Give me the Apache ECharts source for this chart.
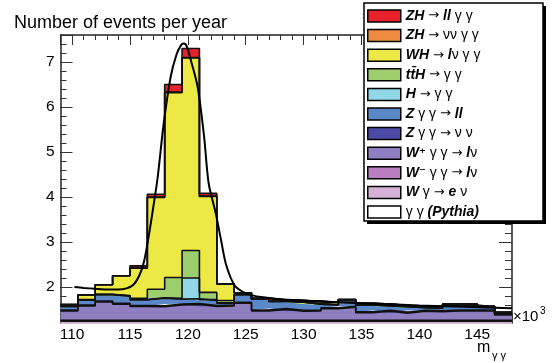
<!DOCTYPE html>
<html>
<head>
<meta charset="utf-8">
<script src="https://cdn.jsdelivr.net/npm/echarts@6/dist/echarts.min.js"></script>
<style>
html, body { margin: 0; padding: 0; background: #fff; }
#chart { width: 553px; height: 363px; }
</style>
</head>
<body>
<div id="chart"></div>
<script>
// bin edges of m_gg (GeV), 1.5 GeV bins
const binEdges = [109, 110.5, 112, 113.5, 115, 116.5, 118, 119.5, 121, 122.5, 124, 125.5, 127, 128.5,
  130, 131.5, 133, 134.5, 136, 137.5, 139, 140.5, 142, 143.5, 145, 146.5, 148];

// events per year per bin (x10^3), stack order bottom -> top
const pythiaGG = [1.1, 1.1, 1.1, 1.1, 1.1, 1.1, 1.1, 1.1, 1.1, 1.1, 1.1, 1.1, 1.1, 1.1, 1.1, 1.1, 1.1, 1.1, 1.1, 1.1, 1.1, 1.1, 1.1, 1.1, 1.1, 1.1];
const wGammaEnu = [0.14, 0.14, 0.14, 0.14, 0.14, 0.14, 0.14, 0.14, 0.14, 0.14, 0.14, 0.14, 0.14, 0.14, 0.14, 0.14, 0.14, 0.14, 0.14, 0.14, 0.14, 0.14, 0.14, 0.14, 0.14, 0.14];
const wMinusGG = [0.02, 0.02, 0.02, 0.02, 0.02, 0.02, 0.02, 0.02, 0.02, 0.02, 0.02, 0.02, 0.02, 0.02, 0.02, 0.02, 0.02, 0.02, 0.02, 0.02, 0.02, 0.02, 0.02, 0.02, 0.02, 0.02];
const wPlusGG = [0.21, 0.32, 0.41, 0.36, 0.31, 0.30, 0.34, 0.35, 0.31, 0.32, 0.38, 0.21, 0.24, 0.20, 0.21, 0.26, 0.29, 0.17, 0.20, 0.16, 0.20, 0.19, 0.21, 0.21, 0.21, 0.12];
const zGGnunu = [0.02, 0.02, 0.02, 0.02, 0.02, 0.02, 0.02, 0.02, 0.02, 0.02, 0.02, 0.02, 0.02, 0.02, 0.02, 0.02, 0.02, 0.02, 0.02, 0.02, 0.02, 0.02, 0.02, 0.02, 0.02, 0.02];
const zGGll = [0.08, 0.11, 0.14, 0.16, 0.13, 0.17, 0.11, 0.11, 0.11, 0.04, 0.17, 0.24, 0.16, 0.18, 0.13, 0.06, 0.13, 0.15, 0.10, 0.12, 0.06, 0.06, 0.10, 0.10, 0.06, 0.02];
const hGG = [0, 0, 0, 0, 0, 0.01, 0.02, 0.46, 0.02, 0.01, 0, 0, 0, 0, 0, 0, 0, 0, 0, 0, 0, 0, 0, 0, 0, 0];
const ttH = [0.02, 0.01, 0.01, 0.01, 0.03, 0.19, 0.46, 0.61, 0.16, 0.05, 0.01, 0.01, 0.01, 0.01, 0.01, 0.01, 0.01, 0.01, 0.01, 0.01, 0.01, 0.01, 0.01, 0.01, 0.01, 0.01];
const whLnuGG = [0.02, 0.10, 0.21, 0.44, 0.67, 2.04, 4.11, 4.28, 2.13, 0.37, 0.03, 0.01, 0.02, 0.03, 0.05, 0.05, 0.01, 0.03, 0.03, 0.02, 0.03, 0.02, 0.02, 0.02, 0.01, 0.01];
const zhNuNuGG = [0, 0, 0, 0, 0, 0.01, 0.01, 0.01, 0.01, 0, 0, 0, 0, 0, 0, 0, 0, 0, 0, 0, 0, 0, 0, 0, 0, 0];
const zhLLGG = [0, 0, 0, 0, 0.05, 0.06, 0.17, 0.20, 0.06, 0, 0, 0, 0, 0, 0, 0, 0, 0, 0, 0, 0, 0, 0, 0, 0, 0];

// fitted curve
const fitCurve = [[110.2, 2.00], [111, 1.98], [112, 1.96], [113, 1.945], [114, 1.945], [114.7, 1.97], [115.3, 2.05],
  [115.8, 2.25], [116.2, 2.55], [116.6, 3.1], [117.0, 3.75], [117.4, 4.45], [117.9, 5.6], [118.5, 6.65], [119.0, 7.15],
  [119.4, 7.37], [119.65, 7.41], [119.9, 7.35], [120.3, 7.0], [120.85, 6.44], [121.4, 5.35], [121.8, 4.3], [122.4, 3.65],
  [122.9, 3.0], [123.3, 2.5], [124.0, 2.05], [124.7, 1.9], [125.5, 1.82], [126.5, 1.77], [128, 1.73], [130, 1.70],
  [133, 1.66], [136, 1.63], [140, 1.59], [144, 1.56], [148, 1.53]];

const xTicks = [110, 115, 120, 125, 130, 135, 140, 145];
const yTicks = [2, 3, 4, 5, 6, 7];

const layers = [
  { name: 'gg', data: pythiaGG, color: '#ffffff', label: 'γ γ {b|(Pythia)}' },
  { name: 'Wg_enu', data: wGammaEnu, color: '#d5b1d8', label: '{b|W} γ {ar|→} {b|e} ν' },
  { name: 'Wm_gg', data: wMinusGG, color: '#b87ec0', label: '{b|W}{sup|⁻} γ γ {ar|→} {b|l}ν' },
  { name: 'Wp_gg', data: wPlusGG, color: '#8f7ec0', label: '{b|W}{sup|⁺} γ γ {ar|→} {b|l}ν' },
  { name: 'Zgg_nunu', data: zGGnunu, color: '#4b4ba5', label: '{b|Z} γ γ {ar|→} ν ν' },
  { name: 'Zgg_ll', data: zGGll, color: '#5b88c8', label: '{b|Z} γ γ {ar|→} {b|ll}' },
  { name: 'H_gg', data: hGG, color: '#90d8e8', label: '{b|H} {ar|→} γ γ' },
  { name: 'ttH', data: ttH, color: '#9dce6e', label: '{b|tt\u0304H} {ar|→} γ γ' },
  { name: 'WH', data: whLnuGG, color: '#ede944', label: '{b|WH} {ar|→} {b|l}ν γ γ' },
  { name: 'ZH_nunu', data: zhNuNuGG, color: '#ee8a41', label: '{b|ZH} {ar|→} νν γ γ' },
  { name: 'ZH_ll', data: zhLLGG, color: '#e8222a', label: '{b|ZH} {ar|→} {b|ll} γ γ' }
];

const labelOf = {};
layers.forEach(l => { labelOf[l.name] = l.label; });

const font = 'Liberation Sans';

// stacked histograms live on a hidden category axis whose points are the bin edges
const series = layers.map(l => ({
  name: l.name,
  type: 'line',
  stack: 'sum',
  step: 'end',
  xAxisIndex: 4,
  yAxisIndex: 0,
  showSymbol: false,
  symbol: 'none',
  data: binEdges.map((e, i) => l.data[Math.min(i, l.data.length - 1)]),
  itemStyle: { color: l.color, borderColor: '#000', borderWidth: 1.5 },
  lineStyle: { color: '#111', width: 1.6 },
  areaStyle: { color: l.color, opacity: 1 }
}));

series.push({
  name: 'fit',
  type: 'line',
  xAxisIndex: 0,
  yAxisIndex: 0,
  data: fitCurve,
  smooth: 0.3,
  showSymbol: false,
  symbol: 'none',
  z: 5,
  lineStyle: { color: '#000', width: 2 }
});

const axisLineStyle = { show: true, onZero: false, lineStyle: { color: '#222', width: 1.5 } };
const tickStyle = { color: '#333', width: 1 };

const myChart = echarts.init(document.getElementById('chart'));
myChart.setOption({
  animation: false,
  title: {
    text: 'Number of events per year',
    left: 14, top: 14, padding: 0,
    textStyle: { fontFamily: font, fontSize: 18, fontWeight: 'normal', color: '#000' }
  },
  grid: { left: 60.5, right: 41, top: 35, bottom: 40 },
  xAxis: [
    {
      type: 'value', min: 109, max: 148, splitNumber: 8, position: 'bottom',
      axisLine: axisLineStyle,
      axisTick: { show: true, inside: true, length: 10, lineStyle: tickStyle },
      axisLabel: {
        show: true, margin: 4, color: '#000', fontFamily: font, fontSize: 15.5,
        formatter: v => (xTicks.indexOf(v) >= 0 ? String(v) : '')
      },
      splitLine: { show: false }
    },
    {
      type: 'value', min: 109, max: 148, interval: 1, position: 'bottom',
      axisLine: { show: false },
      axisTick: { show: true, inside: true, length: 5, lineStyle: tickStyle },
      axisLabel: { show: false }, splitLine: { show: false }
    },
    {
      type: 'value', min: 109, max: 148, splitNumber: 8, position: 'top',
      axisLine: axisLineStyle,
      axisTick: { show: true, inside: true, length: 10, lineStyle: tickStyle },
      axisLabel: { show: false }, splitLine: { show: false }
    },
    {
      type: 'value', min: 109, max: 148, interval: 1, position: 'top',
      axisLine: { show: false },
      axisTick: { show: true, inside: true, length: 5, lineStyle: tickStyle },
      axisLabel: { show: false }, splitLine: { show: false }
    },
    {
      type: 'category', data: binEdges.map(String), boundaryGap: false, position: 'bottom',
      show: false
    }
  ],
  yAxis: [
    {
      type: 'value', min: 1.2, max: 7.6, splitNumber: 6, position: 'left',
      axisLine: axisLineStyle,
      axisTick: { show: true, inside: true, length: 12, lineStyle: tickStyle },
      axisLabel: {
        show: true, margin: 6, color: '#000', fontFamily: font, fontSize: 15.5,
        formatter: v => (yTicks.indexOf(v) >= 0 ? String(v) : '')
      },
      splitLine: { show: false }
    },
    {
      type: 'value', min: 1.2, max: 7.6, interval: 0.2, position: 'left',
      axisLine: { show: false },
      axisTick: { show: true, inside: true, length: 6, lineStyle: tickStyle },
      axisLabel: { show: false }, splitLine: { show: false }
    },
    {
      type: 'value', min: 1.2, max: 7.6, splitNumber: 6, position: 'right',
      axisLine: axisLineStyle,
      axisTick: { show: true, inside: true, length: 13, lineStyle: tickStyle },
      axisLabel: { show: false }, splitLine: { show: false }
    },
    {
      type: 'value', min: 1.2, max: 7.6, interval: 0.2, position: 'right',
      axisLine: { show: false },
      axisTick: { show: true, inside: true, length: 7, lineStyle: tickStyle },
      axisLabel: { show: false }, splitLine: { show: false }
    }
  ],
  legend: {
    orient: 'vertical',
    left: 367, top: 9, padding: 0,
    itemWidth: 33, itemHeight: 12, itemGap: 5.6,
    icon: 'rect',
    z: 12,
    data: layers.map(l => l.name).reverse(),
    selectedMode: false,
    itemStyle: { borderColor: '#000', borderWidth: 1.5 },
    formatter: name => labelOf[name],
    textStyle: {
      fontFamily: font, fontSize: 14, color: '#000', lineHeight: 12,
      rich: {
        b: { fontFamily: font, fontSize: 14, fontWeight: 'bold', fontStyle: 'italic', color: '#000', lineHeight: 12 },
        ar: { fontFamily: 'DejaVu Sans', fontSize: 13, color: '#000', lineHeight: 12 },
        sup: { fontFamily: 'DejaVu Sans', fontSize: 13, fontWeight: 'bold', fontStyle: 'italic', color: '#000', lineHeight: 12 }
      }
    }
  },
  graphic: [
    { type: 'rect', z: 10, shape: { x: 367, y: 6, width: 179, height: 218 }, style: { fill: '#000' } },
    { type: 'rect', z: 10, shape: { x: 364, y: 3, width: 179, height: 218 }, style: { fill: '#fff', stroke: '#000', lineWidth: 1.5 } },
    { type: 'text', z: 10, x: 513, y: 324, style: { text: '×10', font: '15px "Liberation Sans"', fill: '#000', verticalAlign: 'bottom', textVerticalAlign: 'bottom' } },
    { type: 'text', z: 10, x: 540, y: 306, style: { text: '3', font: '10px "Liberation Sans"', fill: '#000', verticalAlign: 'top', textVerticalAlign: 'top' } },
    { type: 'text', z: 10, x: 477, y: 356, style: { text: 'm', font: '16px "Liberation Sans"', fill: '#000', verticalAlign: 'bottom', textVerticalAlign: 'bottom' } },
    { type: 'text', z: 10, x: 492, y: 361, style: { text: 'γ γ', font: '11px "Liberation Sans"', fill: '#000', verticalAlign: 'bottom', textVerticalAlign: 'bottom' } }
  ],
  series: series
});
</script>
</body>
</html>
